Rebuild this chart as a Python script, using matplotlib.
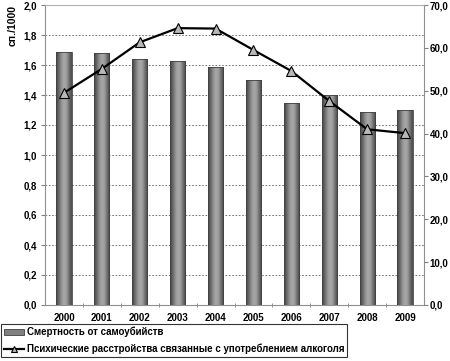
import numpy as np
import matplotlib.pyplot as plt
from matplotlib.lines import Line2D
from matplotlib.patches import Patch
from matplotlib.ticker import FixedLocator, FuncFormatter

years = ["2000", "2001", "2002", "2003", "2004", "2005", "2006", "2007", "2008", "2009"]
suicide = [1.69, 1.68, 1.64, 1.63, 1.59, 1.50, 1.35, 1.40, 1.29, 1.30]
alcohol = [49.5, 55.1, 61.3, 64.6, 64.5, 59.5, 54.6, 47.6, 41.0, 40.1]

bar_label = "Смертность от самоубийств"
line_label = "Психические расстройства связанные с употреблением алкоголя"
ylabel = "сп./1000"

plt.rcParams["font.family"] = ["Liberation Sans", "DejaVu Sans"]
plt.rcParams["font.weight"] = "bold"

fig = plt.figure(figsize=(4.5, 3.61), dpi=100)
ax = fig.add_axes([45 / 450, 1 - 305 / 361, 379 / 450, 300 / 361])
x = np.arange(len(years))

# bars with horizontal gray gradient
grad = np.array([[0.30, 0.38, 0.48, 0.58, 0.64, 0.66, 0.62, 0.52, 0.40, 0.32]])
bars = ax.bar(x, suicide, width=0.4, color="none", edgecolor="#404040", lw=0.6, zorder=3)
for b in bars:
    x0, w, h = b.get_x(), b.get_width(), b.get_height()
    im = ax.imshow(grad, cmap="gray", vmin=0, vmax=1, aspect="auto",
                   extent=[x0, x0 + w, 0, h], interpolation="bicubic", zorder=2)
    im.set_clip_path(b)

ax.set_xlim(-0.5, len(years) - 0.5)
ax.set_ylim(0, 2.0)
ax.set_yticks(np.arange(0, 2.01, 0.2))
ax.yaxis.set_major_formatter(FuncFormatter(lambda v, p: f"{v:.1f}".replace(".", ",")))
ax.set_xticks(x)
ax.set_xticklabels(years)
ax.xaxis.set_minor_locator(FixedLocator(np.arange(0.5, len(years) - 0.5, 1)))
ax.tick_params(axis="x", which="major", length=0, pad=6, labelsize=7)
ax.tick_params(axis="x", which="minor", length=3, direction="inout", color="#808080")
ax.tick_params(axis="y", length=3, color="#808080", labelsize=7, pad=3)
for v in np.arange(0.2, 1.81, 0.2):
    ax.axhline(v, color="#606060", ls=(0, (2, 2)), lw=0.6, zorder=1)
for s in ax.spines.values():
    s.set_color("#909090")
    s.set_linewidth(0.8)
ax.spines["top"].set_color("#b0b0b0")

ax.text(-0.085, 1.0, ylabel, transform=ax.transAxes, rotation=90,
        ha="center", va="top", fontsize=7.5, fontweight="bold")

ax2 = ax.twinx()
ax2.plot(x, alcohol, color="black", lw=1.6, marker="^", markersize=7,
         markerfacecolor="#b8b8b8", markeredgecolor="black", markeredgewidth=0.8, zorder=5)
ax2.set_ylim(0, 70)
ax2.set_yticks(np.arange(0, 70.1, 10))
ax2.yaxis.set_major_formatter(FuncFormatter(lambda v, p: f"{v:.1f}".replace(".", ",")))
ax2.tick_params(axis="y", length=3, color="#808080", labelsize=7, pad=1)
for s in ax2.spines.values():
    s.set_visible(False)

handles = [
    Patch(facecolor="#808080", edgecolor="#404040", lw=0.6),
    Line2D([], [], color="black", lw=1.6, marker="^", markersize=5,
           markerfacecolor="#b8b8b8", markeredgecolor="black", markeredgewidth=0.8),
]
leg = fig.legend(handles, [bar_label, line_label], loc="upper left",
                 bbox_to_anchor=(1 / 450, 1 - 324 / 361), fontsize=7,
                 frameon=True, fancybox=False, edgecolor="black", borderpad=0.3,
                 handlelength=2.1, handleheight=0.5, handletextpad=0.25,
                 labelspacing=0.6, borderaxespad=0)
leg.get_frame().set_linewidth(0.8)

fig.savefig("out.png", dpi=100)
